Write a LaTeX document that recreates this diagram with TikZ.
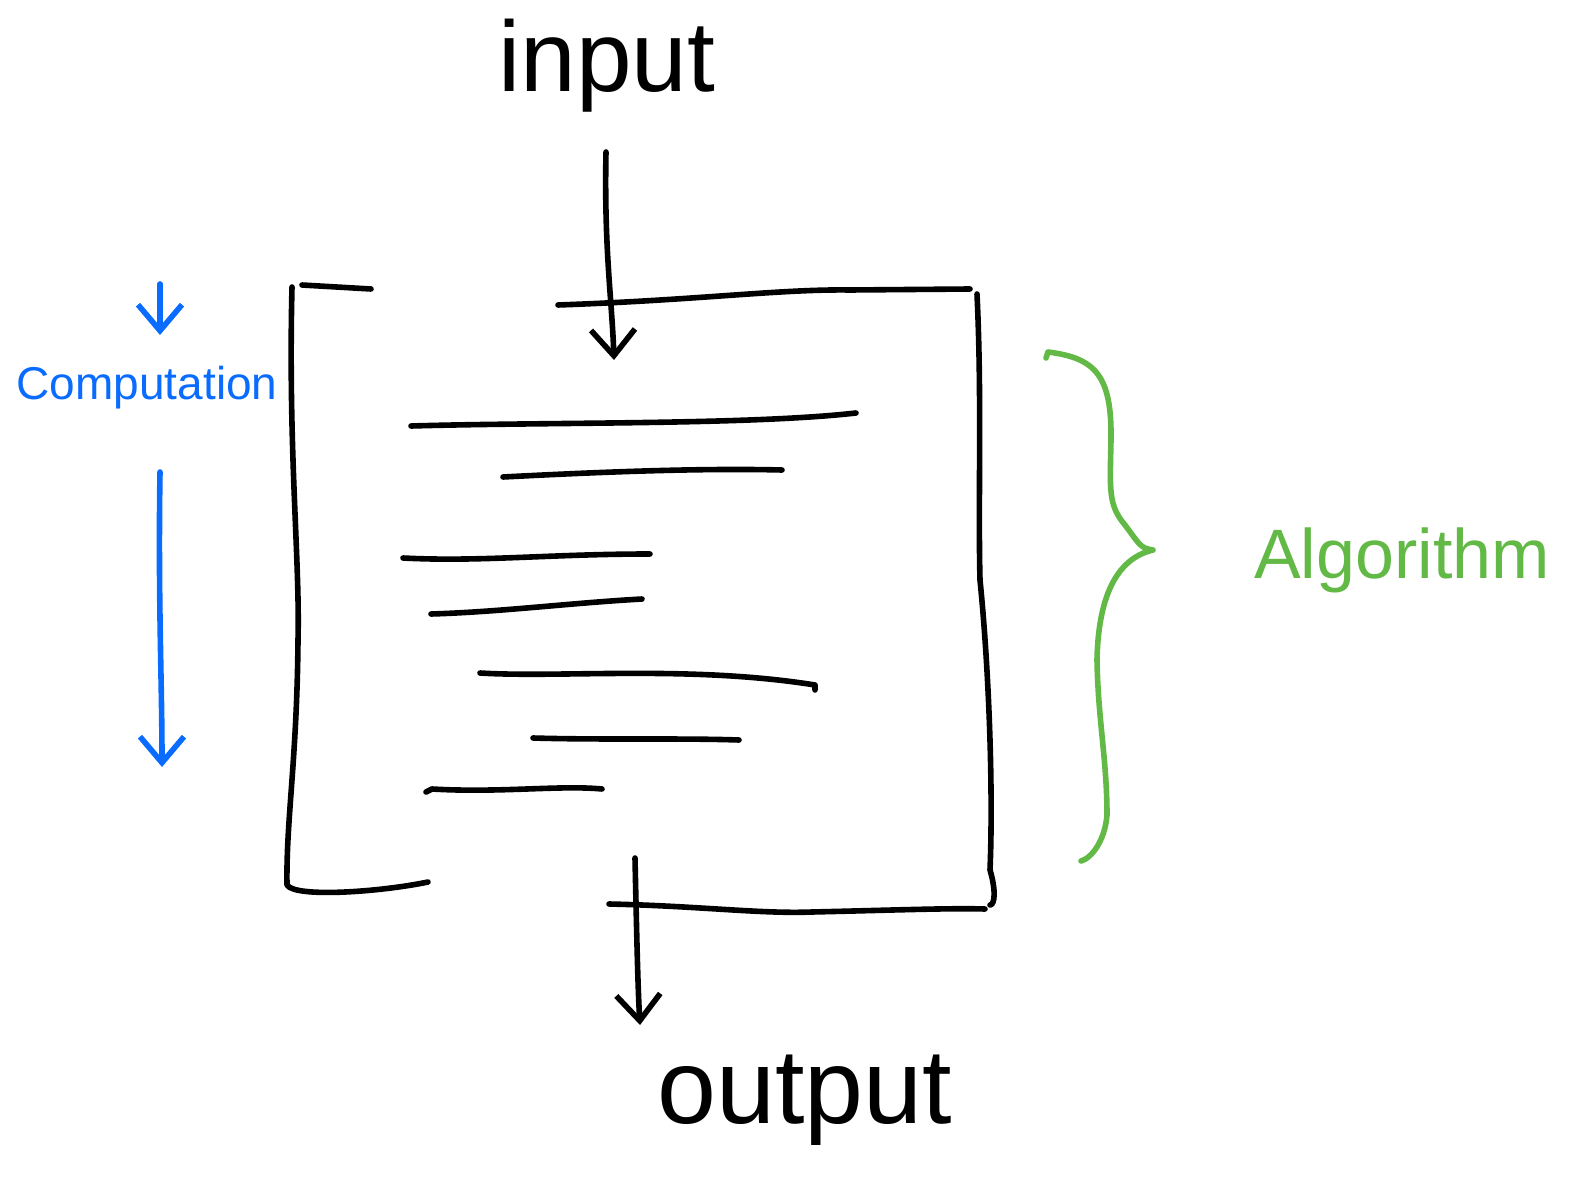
\documentclass[tikz,border=0pt]{standalone}
\usepackage{fontspec}
\setmainfont{Liberation Sans}
\usetikzlibrary{arrows.meta}

\definecolor{compblue}{RGB}{10,108,255}
\definecolor{algogreen}{RGB}{98,185,70}

\tikzset{
    pen/.style = {line width = 2.8pt, line cap = round, line join = round},
    arr/.style = {pen, -{Straight Barb[length = 13pt, width = 22pt]}},
    label/.style = {inner sep = 0pt, anchor = center}
}

\begin{document}
\begin{tikzpicture}[x = 0.5pt, y = -0.5pt]
            \useasboundingbox (0,0) rectangle (1592,1198);

            % texts
            \node[label, font = \fontsize{50}{60}\selectfont] (input) at (607,66) {input};
            \node[label, font = \fontsize{53}{62}\selectfont] (output) at (805,1100) {output};
            \node[label, font = \fontsize{23}{28}\selectfont, text = compblue] (comp) at (147,388) {Computation};
            \node[label, font = \fontsize{35}{42}\selectfont, text = algogreen] (algo) at (1402,560) {Algorithm};

            % arrow end points
            \coordinate (in1) at (606,152);
            \coordinate (in2) at (614,360);
            \coordinate (out1) at (635,858);
            \coordinate (out2) at (640,1025);
            \coordinate (c1) at (160,284);
            \coordinate (c2) at (160,335);
            \coordinate (c3) at (160,472);
            \coordinate (c4) at (162,767);

            % box
            \draw [pen]
            (371,289) -- (302,285);
            \draw [pen]
            (292,287) .. controls (288,450) and (300,560) .. (298,640)
            .. controls (297,760) and (286,820) .. (287,885)
            .. controls (295,898) and (380,892) .. (428,882);
            \draw [pen]
            (558,305) .. controls (700,300) and (780,289) .. (850,290)
            -- (970,289);
            \draw [pen]
            (977,294) .. controls (982,400) and (978,500) .. (980,580)
            .. controls (990,680) and (993,800) .. (990,870)
            .. controls (996,890) and (995,905) .. (990,905);
            \draw [pen]
            (609,904) .. controls (700,906) and (760,914) .. (812,912)
            .. controls (900,910) and (950,908) .. (985,909);

            % lines of the algorithm
            \draw [pen] (411,426) .. controls (550,422) and (750,425) .. (856,413);
            \draw [pen] (503,477) .. controls (600,472) and (700,468) .. (782,470);
            \draw [pen] (403,558) .. controls (480,562) and (550,554) .. (650,554);
            \draw [pen] (431,614) .. controls (500,612) and (570,603) .. (642,599);
            \draw [pen] (480,673) .. controls (560,678) and (690,665) .. (815,685) -- (815,690);
            \draw [pen] (533,738) .. controls (600,740) and (680,738) .. (739,740);
            \draw [pen] (426,792) -- (432,789) .. controls (500,793) and (560,785) .. (602,789);

            % arrows
            \draw [arr] (in1) .. controls (604,250) and (612,300) .. (in2);
            \draw [arr] (out1) .. controls (637,950) and (638,990) .. (out2);
            \draw [arr, color = compblue] (c1) -- (c2);
            \draw [arr, color = compblue] (c3) .. controls (158,600) and (162,680) .. (c4);

            % brace
            \draw [pen, color = algogreen]
            (1046,358) -- (1048,352)
            .. controls (1095,358) and (1112,375) .. (1111,440)
            .. controls (1110,490) and (1108,505) .. (1125,525)
            .. controls (1140,545) and (1140,548) .. (1153,550)
            .. controls (1110,560) and (1098,610) .. (1097,660)
            .. controls (1098,720) and (1107,760) .. (1107,815)
            .. controls (1105,840) and (1092,858) .. (1081,861);
        \end{tikzpicture}
\end{document}
